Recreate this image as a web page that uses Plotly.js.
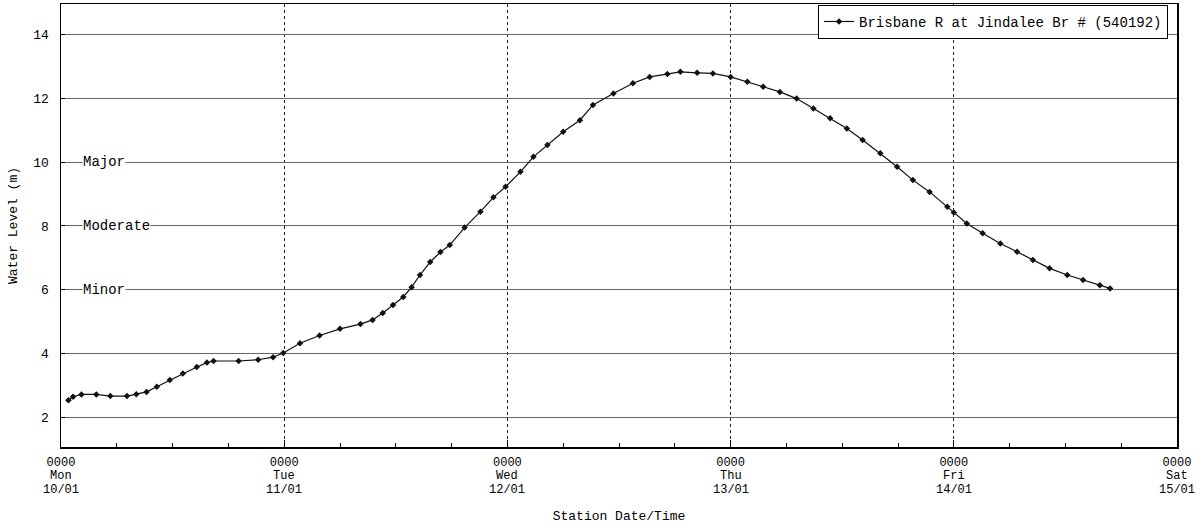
<!DOCTYPE html>
<html>
<head>
<meta charset="utf-8">
<script src="https://cdn.plot.ly/plotly-3.0.1.min.js"></script>
<style>
  html, body { margin: 0; padding: 0; background: #fff; }
  #chart { width: 1204px; height: 524px; }
</style>
</head>
<body>
<div id="chart"></div>
<script>
// Hours after 0000 Mon 10/01/2011
const hours = [
  0.8, 1.3, 2.2, 3.8, 5.3, 7.1, 8.1, 9.2, 10.3, 11.7, 13.1, 14.6, 15.7, 16.4,
  19.1, 21.2, 22.8, 23.9, 25.7, 27.8, 30.0, 32.2, 33.5, 34.6, 35.7, 36.8, 37.7,
  38.6, 39.7, 40.8, 41.8, 43.4, 45.1, 46.5, 47.8, 49.4, 50.8, 52.3, 54.0, 55.8,
  57.2, 59.4, 61.5, 63.3, 65.2, 66.6, 68.4, 70.1, 72.0, 73.8, 75.5, 77.3, 79.1,
  80.9, 82.7, 84.5, 86.2, 88.1, 89.9, 91.6, 93.4, 95.3, 96.0, 97.4, 99.1, 101.0,
  102.8, 104.5, 106.3, 108.2, 109.9, 111.7, 112.8
];
// Water level (m)
const levels = [
  2.53, 2.64, 2.71, 2.71, 2.66, 2.66, 2.72, 2.79, 2.95, 3.16, 3.37, 3.57, 3.71, 3.76,
  3.76, 3.80, 3.88, 4.01, 4.32, 4.56, 4.77, 4.92, 5.05, 5.27, 5.52, 5.77, 6.08,
  6.46, 6.87, 7.18, 7.40, 7.95, 8.45, 8.90, 9.23, 9.70, 10.17, 10.54, 10.96, 11.32,
  11.80, 12.16, 12.48, 12.68, 12.77, 12.84, 12.81, 12.79, 12.68, 12.53, 12.37, 12.21, 12.00,
  11.69, 11.38, 11.06, 10.70, 10.28, 9.86, 9.44, 9.07, 8.60, 8.42, 8.08, 7.77, 7.45,
  7.19, 6.93, 6.67, 6.46, 6.30, 6.14, 6.04
];

const dayTicks = ['2011-01-10', '2011-01-11', '2011-01-12', '2011-01-13', '2011-01-14', '2011-01-15'];
const dayTimes = ['0000', '0000', '0000', '0000', '0000', '0000'];
const dayNames = ['Mon', 'Tue', 'Wed', 'Thu', 'Fri', 'Sat'];
const dayDates = ['10/01', '11/01', '12/01', '13/01', '14/01', '15/01'];
const yTicks = [2, 4, 6, 8, 10, 12, 14];
const floodLevels = [10, 8, 6];
const floodNames = ['Major', 'Moderate', 'Minor'];
const seriesName = 'Brisbane R at Jindalee Br # (540192)';

const base = Date.UTC(2011, 0, 10);
const xs = hours.map(h => base + h * 3600000);
const FONT = 'Liberation Mono, DejaVu Sans Mono, monospace';

const trace = {
  type: 'scatter',
  mode: 'lines+markers',
  name: seriesName,
  x: xs,
  y: levels,
  line: { color: '#111', width: 1.2 },
  marker: { symbol: 'diamond', size: 5, color: '#111' }
};

const annotations = [];
dayTicks.forEach((d, i) => {
  annotations.push({ x: d, xref: 'x', y: 0, yref: 'paper', yanchor: 'middle', yshift: -29, borderpad: 0,
    text: dayNames[i], showarrow: false, font: { family: FONT, size: 12, color: '#000' } });
  annotations.push({ x: d, xref: 'x', y: 0, yref: 'paper', yanchor: 'middle', yshift: -43, borderpad: 0,
    text: dayDates[i], showarrow: false, font: { family: FONT, size: 12, color: '#000' } });
});
floodLevels.forEach((lv, i) => {
  annotations.push({ x: 0.019, xref: 'paper', y: lv, yref: 'y', xanchor: 'left', yanchor: 'middle',
    text: floodNames[i], showarrow: false, bgcolor: '#fff', borderpad: 0,
    font: { family: FONT, size: 14, color: '#000' } });
});

const layout = {
  width: 1204, height: 524,
  margin: { l: 61, r: 27, t: 4, b: 77 },
  paper_bgcolor: '#fff', plot_bgcolor: '#fff',
  font: { family: FONT, size: 13, color: '#000' },
  showlegend: true,
  legend: {
    x: 0.992, xanchor: 'right', y: 0.998, yanchor: 'top',
    bgcolor: '#fff', bordercolor: '#000', borderwidth: 1,
    font: { family: FONT, size: 14, color: '#000' },
    itemwidth: 30, tracegroupgap: 0
  },
  xaxis: {
    type: 'date',
    range: ['2011-01-10', '2011-01-15'],
    tickmode: 'array', tickvals: dayTicks, ticktext: dayTimes,
    ticks: 'inside', ticklen: 7, tickcolor: '#000',
    tickfont: { family: FONT, size: 12, color: '#000' },
    ticklabelstandoff: 3,
    showgrid: true, gridcolor: '#222', griddash: 'dot', gridwidth: 1,
    showline: true, linecolor: '#000', linewidth: 1.5, mirror: true,
    zeroline: false,
    minor: { dtick: 21600000, ticks: 'inside', ticklen: 4, tickcolor: '#000', showgrid: false },
    title: { text: 'Station Date/Time', standoff: 42, font: { family: FONT, size: 13, color: '#000' } }
  },
  yaxis: {
    range: [1.06, 14.97],
    tickmode: 'array', tickvals: yTicks,
    ticks: 'inside', ticklen: 4, tickcolor: '#000',
    tickfont: { family: FONT, size: 13, color: '#000' },
    ticklabelstandoff: 8,
    showgrid: true, gridcolor: '#666', gridwidth: 1,
    showline: true, linecolor: '#000', linewidth: 1.5, mirror: true,
    zeroline: false,
    title: { text: 'Water Level (m)', standoff: 12, font: { family: FONT, size: 13, color: '#000' } }
  },
  annotations: annotations
};

Plotly.newPlot('chart', [trace], layout, { displayModeBar: false, staticPlot: true });
</script>
</body>
</html>
